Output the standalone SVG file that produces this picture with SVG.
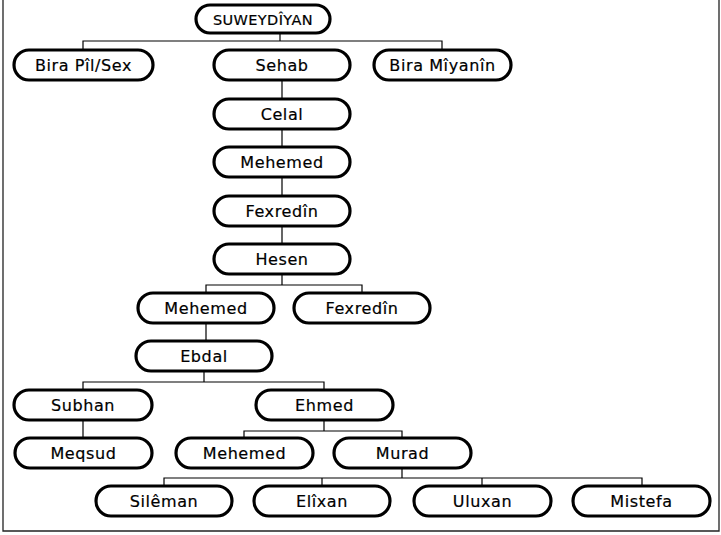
<svg xmlns="http://www.w3.org/2000/svg" width="721" height="535" viewBox="0 0 721 535">
<style>
.n rect{fill:#fff;stroke:#000;stroke-width:3.2}
.n text{font-family:"DejaVu Sans",Verdana,sans-serif;font-size:16px;letter-spacing:0.6px;fill:#000;stroke:#000;stroke-width:0.2;text-anchor:middle;dominant-baseline:central}
.c path{fill:none;stroke:#000;stroke-width:1.2}
.f{fill:none;stroke:#222;stroke-width:1.3}
</style>
<rect width="721" height="535" fill="#fff"/>
<path class="f" d="M3,0 V531 H719 V0"/>
<g class="c">
<path d="M280,33 V41 M83,50 V41 H442 V50 M282,80 V99 M282,129 V147 M282,177 V196 M282,226 V244"/>
<path d="M282,274 V285 M206,293 V285 H362 V293 M206,323 V341"/>
<path d="M204,371 V382 M83,390 V382 H324 V390 M83,420 V438"/>
<path d="M324,420 V431 M244,438 V431 H402 V438"/>
<path d="M402,468 V478 M164,486 V478 H642 V486 M322,478 V486 M482,478 V486"/>
</g>
<g id="suweydiyan" class="n"><rect x="196" y="5" width="134" height="28" rx="14"/><text x="263" y="19.5" style="font-size:14.5px;letter-spacing:0.4px">SUWEYDÎYAN</text></g>
<g id="bira-pil-sex" class="n"><rect x="14" y="50" width="139" height="30" rx="15"/><text x="83.5" y="65.5">Bira Pîl/Sex</text></g>
<g id="sehab" class="n"><rect x="214" y="50" width="136" height="30" rx="15"/><text x="282" y="65.5">Sehab</text></g>
<g id="bira-miyanin" class="n"><rect x="374" y="50" width="137" height="30" rx="15"/><text x="442.5" y="65.5">Bira Mîyanîn</text></g>
<g id="celal" class="n"><rect x="214" y="99" width="136" height="30" rx="15"/><text x="282" y="114.5">Celal</text></g>
<g id="mehemed1" class="n"><rect x="214" y="147" width="136" height="30" rx="15"/><text x="282" y="162.5">Mehemed</text></g>
<g id="fexredin1" class="n"><rect x="214" y="196" width="136" height="30" rx="15"/><text x="282" y="211.5">Fexredîn</text></g>
<g id="hesen" class="n"><rect x="214" y="244" width="136" height="30" rx="15"/><text x="282" y="259.5">Hesen</text></g>
<g id="mehemed2" class="n"><rect x="138" y="293" width="136" height="30" rx="15"/><text x="206" y="308.5">Mehemed</text></g>
<g id="fexredin2" class="n"><rect x="294" y="293" width="136" height="30" rx="15"/><text x="362" y="308.5">Fexredîn</text></g>
<g id="ebdal" class="n"><rect x="136" y="341" width="136" height="30" rx="15"/><text x="204" y="356.5">Ebdal</text></g>
<g id="subhan" class="n"><rect x="14" y="390" width="138" height="30" rx="15"/><text x="83" y="405.5">Subhan</text></g>
<g id="ehmed" class="n"><rect x="256" y="390" width="137" height="30" rx="15"/><text x="324.5" y="405.5">Ehmed</text></g>
<g id="meqsud" class="n"><rect x="15" y="438" width="137" height="30" rx="15"/><text x="83.5" y="453.5">Meqsud</text></g>
<g id="mehemed3" class="n"><rect x="176" y="438" width="137" height="30" rx="15"/><text x="244.5" y="453.5">Mehemed</text></g>
<g id="murad" class="n"><rect x="334" y="438" width="137" height="30" rx="15"/><text x="402.5" y="453.5">Murad</text></g>
<g id="sileman" class="n"><rect x="96" y="486" width="136" height="30" rx="15"/><text x="164" y="501.5">Silêman</text></g>
<g id="elixan" class="n"><rect x="254" y="486" width="136" height="30" rx="15"/><text x="322" y="501.5">Elîxan</text></g>
<g id="uluxan" class="n"><rect x="414" y="486" width="137" height="30" rx="15"/><text x="482.5" y="501.5">Uluxan</text></g>
<g id="mistefa" class="n"><rect x="573" y="486" width="137" height="30" rx="15"/><text x="641.5" y="501.5">Mistefa</text></g>
</svg>
